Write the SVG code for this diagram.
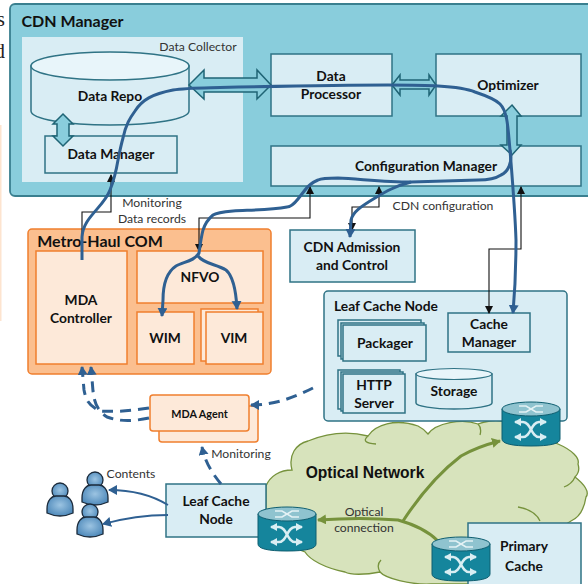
<svg xmlns="http://www.w3.org/2000/svg" width="588" height="584" viewBox="0 0 588 584">
<style>
text{font-family:"Lato","Liberation Sans",sans-serif;fill:#1a1a1a;text-anchor:middle}
.b{font-weight:700;font-size:13.8px;fill:#111}
.n{font-size:12.2px;fill:#333}
.t{fill:#d9edf4;stroke:#2f7385;stroke-width:1.5}
.o{fill:#fde9d9;stroke:#f07f2e;stroke-width:1.5}
.ba{fill:#89cddc;stroke:#1f6475;stroke-width:1.5}
.th{fill:none;stroke:#111;stroke-width:1.1}
.bl{fill:none;stroke:#2f6092;stroke-width:3}
.da{fill:none;stroke:#2f6092;stroke-width:3;stroke-dasharray:11 7}
.gr{fill:none;stroke:#76923c;stroke-width:3}
.ra{fill:#15859c;stroke:#0e5e70;stroke-width:1}
.rt{fill:#8fc3cf;stroke:#0e5e70;stroke-width:1}
.x{fill:none;stroke:#d9eef3;stroke-width:2.5}
.xt{fill:none;stroke:#e4f2f5;stroke-width:1.6}
.p{fill:url(#pg);stroke:#1b2a3a;stroke-width:1.3}
</style>
<defs>
<marker id="ak" markerWidth="10" markerHeight="10" refX="7" refY="4" orient="auto-start-reverse" markerUnits="userSpaceOnUse"><path d="M0 0L8 4L0 8z" fill="#111"/></marker>
<marker id="ab" markerWidth="12" markerHeight="12" refX="8" refY="5" orient="auto" markerUnits="userSpaceOnUse"><path d="M0 0L9 5L0 10z" fill="#2f6092"/></marker>
<marker id="ag" markerWidth="12" markerHeight="12" refX="8" refY="5" orient="auto" markerUnits="userSpaceOnUse"><path d="M0 0L9 5L0 10z" fill="#76923c"/></marker>
<marker id="aw" markerWidth="9" markerHeight="9" refX="6" refY="4" orient="auto-start-reverse" markerUnits="userSpaceOnUse"><path d="M0 0L7 4L0 8z" fill="#d9eef3"/></marker>
<radialGradient id="pg" cx="50%" cy="45%" r="60%"><stop offset="0" stop-color="#9cc4e2"/><stop offset="1" stop-color="#4a86b8"/></radialGradient>
<g id="router">
<path class="ra" d="M0 7V37Q0 44 29 44Q58 44 58 37V7z"/>
<ellipse class="rt" cx="29" cy="7" rx="29" ry="7"/>
<path class="xt" d="M17 4H24L34 10H41M17 10H24L34 4H41"/>
<path class="x" d="M13 20H21C29 20 29 35 37 35H44" marker-start="url(#aw)" marker-end="url(#aw)"/>
<path class="x" d="M13 35H21C29 35 29 20 37 20H44" marker-start="url(#aw)" marker-end="url(#aw)"/>
</g>
<g id="person">
<circle class="p" cx="13" cy="8" r="8"/>
<path class="p" d="M0 26C0 17 5 13 9 13H17C21 13 26 17 26 26V30Q13 36 0 30z"/>
</g>
</defs>
<rect width="588" height="584" fill="#fff"/>
<rect x="0" y="125" width="1.5" height="196" fill="#fde4cf"/>
<text x="5" y="26" style="font-family:'Liberation Serif',serif;font-size:21px;text-anchor:end;fill:#222">s</text>
<text x="5" y="58" style="font-family:'Liberation Serif',serif;font-size:21px;text-anchor:end;fill:#222">d</text>

<g id="optical-network">
<path d="M266 486C270 476 280 470 292 470C288 455 296 444 308 441C325 434 345 430 368 436C375 425 395 418 418 426C424 429 428 434 428 434C436 423 462 418 478 424C485 421 495 420 501 421L558 444C572 450 580 458 578 464C580 470 578 474 575 477C584 484 590 492 586 497C584 510 578 518 571 521L470 584H431C410 585 385 578 380 572C365 575 350 575 345 572C325 568 310 560 305 552L266 537z" fill="#d7e3bc" stroke="#76923c" stroke-width="1.3"/>
<path d="M368 436Q360 443 376 444M478 424Q482 428 480 435M518 507Q535 510 540 521M575 477Q572 484 564 487M380 572Q376 565 381 560" fill="none" stroke="#76923c" stroke-width="1.3"/>
<text x="365" y="478" style="font-family:'Liberation Sans',sans-serif;font-weight:700;font-size:15.6px;fill:#111">Optical Network</text>
</g>

<g id="cdn-manager">
<rect x="10" y="4" width="590" height="192" rx="5" fill="#89cddc" stroke="#3a7f8f" stroke-width="1.8"/>
<text x="72.5" y="27" style="font-weight:700;font-size:16px;fill:#111">CDN Manager</text>
</g>
<g id="data-collector">
<rect x="22" y="37" width="221" height="145" fill="#d9edf4"/>
<text x="198" y="51" class="n">Data Collector</text>
</g>
<g id="data-repo">
<path class="t" d="M31 66V111C31 119 66 125 110 125C154 125 189 119 189 111V66z"/>
<ellipse cx="110" cy="66" rx="79" ry="14" fill="#e8f5fa" stroke="#2f7385" stroke-width="1.5"/>
<text x="110" y="101" class="b">Data Repo</text>
</g>
<g id="data-manager">
<rect class="t" x="45" y="136" width="132" height="37"/>
<text x="111" y="159" class="b">Data Manager</text>
</g>
<g id="data-processor">
<rect class="t" x="271" y="54" width="121" height="62"/>
<text x="331" y="81" class="b">Data</text>
<text x="331" y="99" class="b">Processor</text>
</g>
<g id="optimizer">
<rect class="t" x="436" y="54" width="145" height="62"/>
<text x="508" y="90" class="b">Optimizer</text>
</g>
<g id="configuration-manager">
<rect class="t" x="271" y="146" width="310" height="40"/>
<text x="426" y="171" class="b">Configuration Manager</text>
</g>

<g id="metro-haul-com">
<rect x="28" y="229" width="243" height="145" rx="4" fill="#fbbf8f" stroke="#f07f2e" stroke-width="1.5"/>
<text x="100" y="247" style="font-weight:700;font-size:16px;fill:#111">Metro-Haul COM</text>
</g>
<g id="mda-controller">
<rect class="o" x="36" y="251" width="91" height="113"/>
<text x="81" y="305" class="b">MDA</text>
<text x="81" y="323" class="b">Controller</text>
</g>
<g id="nfvo">
<rect class="o" x="137" y="251" width="126" height="52"/>
<text x="200" y="282" class="b">NFVO</text>
</g>
<g id="wim">
<rect class="o" x="137" y="312" width="57" height="52"/>
<text x="165" y="343" class="b">WIM</text>
</g>
<g id="vim">
<rect class="o" x="201" y="309" width="57" height="52"/>
<rect class="o" x="206" y="312" width="57" height="52"/>
<text x="234" y="343" class="b">VIM</text>
</g>
<g id="cdn-admission">
<rect class="t" x="290" y="230" width="125" height="52"/>
<text x="352" y="252" class="b">CDN Admission</text>
<text x="352" y="270" class="b">and Control</text>
</g>
<g id="leaf-cache-node-large">
<rect x="324" y="291" width="243" height="130" rx="4" fill="#d9edf4" stroke="#2f7385" stroke-width="1.5"/>
<text x="386" y="311" class="b">Leaf Cache Node</text>
</g>
<g id="cache-manager">
<rect class="t" x="448" y="313" width="82" height="39"/>
<text x="489" y="329" class="b">Cache</text>
<text x="489" y="347" class="b">Manager</text>
</g>
<g id="packager">
<rect class="t" x="338" y="320" width="83" height="36" stroke-width="1"/>
<rect class="t" x="341" y="323" width="83" height="36" stroke-width="1"/>
<rect class="t" x="343" y="325" width="83" height="36" stroke-width="1"/>
<text x="385" y="348" class="b">Packager</text>
</g>
<g id="http-server">
<rect class="t" x="338" y="370" width="62" height="39" stroke-width="1"/>
<rect class="t" x="341" y="372" width="62" height="39" stroke-width="1"/>
<rect class="t" x="343" y="374" width="62" height="39" stroke-width="1"/>
<text x="374" y="390" class="b">HTTP</text>
<text x="374" y="408" class="b">Server</text>
</g>
<g id="storage">
<path class="t" d="M416 374V403C416 406 433 409 454 409C475 409 492 406 492 403V374z"/>
<ellipse cx="454" cy="374" rx="38" ry="5.5" fill="#e8f5fa" stroke="#2f7385" stroke-width="1.2"/>
<text x="454" y="396" class="b">Storage</text>
</g>
<g id="primary-cache">
<rect class="t" x="468" y="523" width="113" height="70"/>
<text x="524" y="551" class="b">Primary</text>
<text x="524" y="571" class="b">Cache</text>
</g>
<g id="leaf-cache-node-small">
<rect class="t" x="166" y="484" width="100" height="53"/>
<text x="216" y="506" class="b">Leaf Cache</text>
<text x="216" y="524" class="b">Node</text>
</g>
<g id="mda-agent">
<rect class="o" x="159" y="406" width="99" height="36" rx="3"/>
<rect class="o" x="150" y="395" width="99" height="36" rx="3"/>
<text x="199.500" y="418" style="font-weight:700;font-size:10.8px;fill:#111">MDA Agent</text>
</g>
<g id="users">
<use href="#person" x="47" y="483"/>
<use href="#person" x="82" y="472"/>
<use href="#person" x="77" y="504"/>
</g>
<text x="131" y="478" class="n">Contents</text>
<text x="241" y="458" class="n">Monitoring</text>
<text x="152" y="207" class="n">Monitoring</text>
<text x="152" y="223" class="n">Data records</text>
<text x="443" y="210" class="n">CDN configuration</text>
<text x="364" y="516" class="n">Optical</text>
<text x="364" y="532" class="n">connection</text>

<g id="connectors">
<path class="ba" d="M189 85L204 70V78H257V70L271 85L257 99V92H204V99z"/>
<path class="ba" d="M392 85L400 75V80H429V75L436 85L429 95V89H400V95z"/>
<path class="ba" d="M512 105L521 116H517V145H521L512 155L501 145H507V116H501z"/>
<path class="ba" d="M63 114L73 124H69V136H73L63 146L53 136H57V124H53z"/>
<path class="th" d="M82 251V212H111V175" marker-end="url(#ak)"/>
<path class="th" d="M310 187V218H199V251" marker-start="url(#ak)" marker-end="url(#ak)"/>
<path class="th" d="M379 187V207H352V230" marker-start="url(#ak)" marker-end="url(#ak)"/>
<path class="th" d="M521 187V249H489V313" marker-start="url(#ak)" marker-end="url(#ak)"/>
<path class="bl" d="M82 260V237C83 217 104 207 110 190C114 180 116 172 118 160C120 150 121 145 123 138C126 124 130 118 135 111C142 100 152 94 173 90C185 88 200 88 220 87.500C290 86 340 85 388 85C410 85 425 85 438 86C455 87 468 89 475 92C487 96 495 99 500 104C508 112 508 130 510 150C512 175 515 210 516 240C516 270 515 290 513 313" marker-end="url(#ab)"/>
<path class="bl" d="M510 150C513 162 508 172 501 175C495 179 488 180 478 180L411 182C385 182 360 179 338 178C328 178 322 178 318 180C311 183 308 186 305 190L298 199C294 204 290 207 287 207C270 210 250 210 233 211C222 212 216 213 213 215C207 220 205 224 203 230C201 238 200 246 199 253C195 261 183 262 176 266C167 272 163 285 163 300L162 316" marker-end="url(#ab)"/>
<path class="bl" d="M198 256C204 264 216 264 226 270C233 276 236 290 237 309" marker-end="url(#ab)"/>
<path class="bl" d="M411 182C395 186 385 192 375 198C360 207 353 212 351 220L350 237" marker-end="url(#ab)"/>
<path class="da" d="M149 408C130 411 115 412 100 411C88 405 86 400 84 390L82 367" marker-end="url(#ab)"/>
<path class="da" d="M149 418C130 422 118 421 107 417C96 410 94 400 93 391L91 367" marker-end="url(#ab)"/>
<path class="da" d="M313 388C295 397 275 405 251 405" marker-end="url(#ab)"/>
<path class="da" d="M221 484C212 473 205 462 202 447" marker-end="url(#ab)"/>
<path d="M168 505C150 494 130 490 109 490" fill="none" stroke="#2f6092" stroke-width="1.8" marker-end="url(#ab)"/>
<path d="M168 515C145 515 125 518 103 524" fill="none" stroke="#2f6092" stroke-width="1.8" marker-end="url(#ab)"/>
<path class="gr" d="M403 521C420 495 440 472 461 456C475 448 488 444 500 441" marker-end="url(#ag)"/>
<path class="gr" d="M438 541C430 533 420 526 398 520C375 518 345 518 318 520" marker-end="url(#ag)"/>
</g>
<g id="router-1"><use href="#router" x="502" y="402"/></g>
<g id="router-2"><use href="#router" x="258" y="507"/></g>
<g id="router-3"><use href="#router" x="432" y="537"/></g>
</svg>
